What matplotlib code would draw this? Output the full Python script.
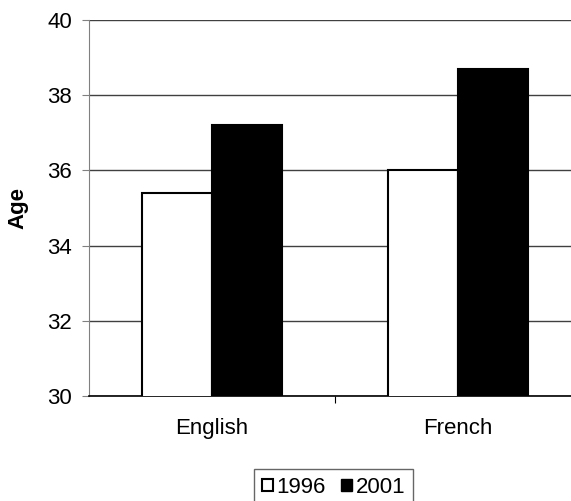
import numpy as np
import matplotlib.pyplot as plt
from matplotlib.patches import Patch

# data
categories = ['English', 'French']
years = ['1996', '2001']
age_1996 = [35.4, 36.0]
age_2001 = [37.2, 38.7]
y_ticks = [30, 32, 34, 36, 38, 40]

plt.rcParams['font.family'] = ['Liberation Sans', 'DejaVu Sans']

fig = plt.figure(figsize=(5.71, 5.01), dpi=100)
ax = fig.add_axes([89 / 571, 105 / 501, 492 / 571, 376 / 501])

x = np.arange(len(categories))
w = 1 / 3.5
ax.bar(x - w / 2, age_1996, w, color='white', edgecolor='black', linewidth=1.5, zorder=3)
ax.bar(x + w / 2, age_2001, w, color='black', edgecolor='black', linewidth=1.5, zorder=3)

ax.set_ylim(30, 40)
ax.set_xlim(-0.5, 1.5)
ax.set_yticks(y_ticks)
ax.tick_params(axis='y', labelsize=16, length=5, color='#808080', direction='out', pad=7)
ax.grid(axis='y', color='#404040', linewidth=1, zorder=0)

# category labels in the middle, tick marks at the boundaries
ax.set_xticks([0.5])
ax.set_xticklabels([''])
ax.set_xticks(x, minor=True)
ax.set_xticklabels(categories, minor=True)
ax.tick_params(axis='x', which='major', length=5, color='black', direction='out')
ax.tick_params(axis='x', which='minor', length=0, labelsize=16, pad=16)

for s in ['top', 'right']:
    ax.spines[s].set_visible(False)
ax.spines['left'].set_color('#808080')
ax.spines['bottom'].set_color('black')
ax.spines['bottom'].set_linewidth(1.2)

ax.set_ylabel('Age', fontsize=16, fontweight='bold')
ax.yaxis.set_label_coords(-0.124, 0.5)

handles = [Patch(facecolor='white', edgecolor='black', linewidth=1.5),
           Patch(facecolor='black', edgecolor='black')]
fig.legend(handles, years, loc='upper left', bbox_to_anchor=(254 / 571, 1 - 469 / 501),
           ncol=2, fontsize=16, frameon=True, fancybox=False, edgecolor='#404040',
           handlelength=0.5, handleheight=0.5, handletextpad=0.15, columnspacing=0.7,
           borderpad=0.35, borderaxespad=0)

fig.savefig('out.png', dpi=100)
